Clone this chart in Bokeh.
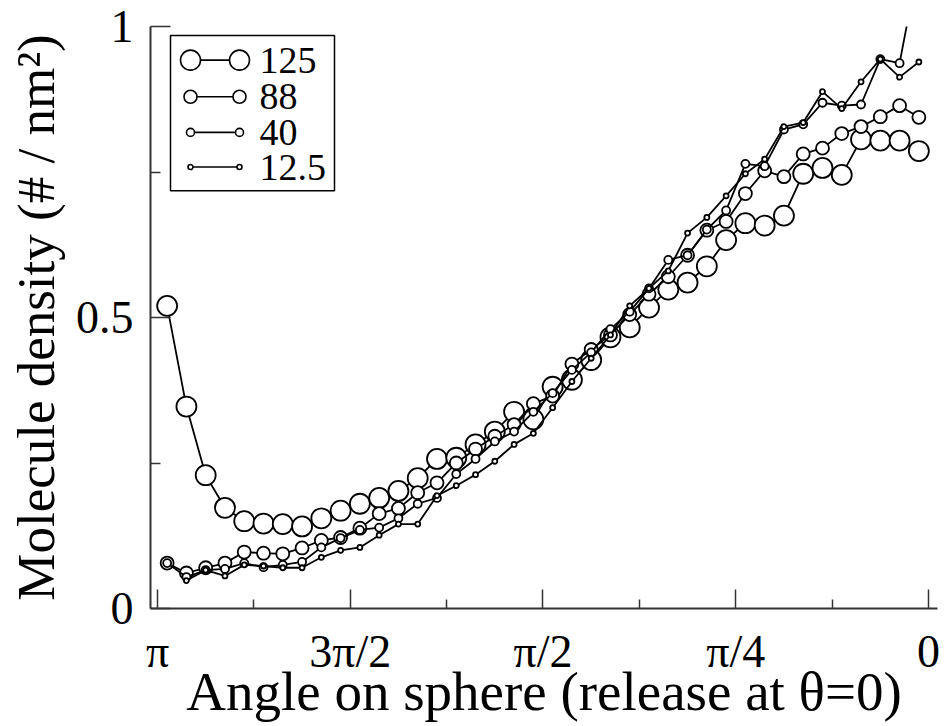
from bokeh.plotting import figure
from bokeh.models import Range1d, FixedTicker, ColumnDataSource
from bokeh.embed import file_html
from bokeh.resources import INLINE
from bokeh.core.properties import value

# ---------------- data ----------------
x_tick_pos = [0, 1, 2, 3, 4]
x_tick_labels = ["π", "3π/2", "π/2", "π/4", "0"]
x_minor_ticks = [0.5, 1.5, 2.5, 3.5]
y_tick_pos = [0, 0.5, 1]
y_tick_labels = ["0", "0.5", "1"]
y_minor_ticks = [0.25, 0.75]

bins = [0.05, 0.15, 0.25, 0.35, 0.45, 0.55, 0.65, 0.75, 0.85, 0.95,
        1.05, 1.15, 1.25, 1.35, 1.45, 1.55, 1.65, 1.75, 1.85, 1.95,
        2.05, 2.15, 2.25, 2.35, 2.45, 2.55, 2.65, 2.75, 2.85, 2.95,
        3.05, 3.15, 3.25, 3.35, 3.45, 3.55, 3.65, 3.75, 3.85, 3.95]

y_125 = [0.520, 0.347, 0.229, 0.173, 0.150, 0.146, 0.145, 0.141, 0.155, 0.168,
         0.180, 0.190, 0.202, 0.224, 0.257, 0.259, 0.282, 0.304, 0.338, 0.325,
         0.381, 0.393, 0.427, 0.466, 0.483, 0.517, 0.548, 0.560, 0.588, 0.633,
         0.662, 0.658, 0.675, 0.747, 0.757, 0.745, 0.806, 0.804, 0.804, 0.786]

y_88 = [0.078, 0.061, 0.070, 0.078, 0.097, 0.095, 0.094, 0.104, 0.117, 0.122,
        0.138, 0.163, 0.172, 0.199, 0.216, 0.250, 0.274, 0.296, 0.316, 0.352,
        0.365, 0.420, 0.445, 0.470, 0.505, 0.540, 0.570, 0.607, 0.650, 0.665,
        0.713, 0.752, 0.742, 0.781, 0.791, 0.816, 0.828, 0.845, 0.864, 0.844]

y_40 = [0.078, 0.054, 0.066, 0.068, 0.078, 0.071, 0.075, 0.080, 0.105, 0.121,
        0.135, 0.139, 0.155, 0.180, 0.190, 0.231, 0.257, 0.287, 0.304, 0.338,
        0.370, 0.410, 0.440, 0.480, 0.510, 0.550, 0.599, 0.607, 0.651, 0.684,
        0.764, 0.760, 0.823, 0.832, 0.869, 0.864, 0.866, 0.944, 0.937, 1.110]

y_12_5 = [0.048, 0.066, 0.056, 0.075, 0.073, 0.070, 0.070, 0.088, 0.100,
          0.105, 0.126, 0.145, 0.145, 0.194, 0.211, 0.230, 0.253, 0.282, 0.301,
          0.345, 0.390, 0.430, 0.470, 0.520, 0.550, 0.580, 0.645, 0.672, 0.709,
          0.747, 0.772, 0.828, 0.835, 0.888, 0.859, 0.905, 0.944, 0.913, 0.939]

series_names = ["125", "88", "40", "12.5"]
series_x = [bins, bins, bins, bins[1:]]
series_y = [y_125, y_88, y_40, y_12_5]
marker_sizes = [20, 13, 8, 5]

# ---------------- figure ----------------
FONT = "Liberation Serif"
FRAME_W, FRAME_H = 787, 588

p = figure(width=940, height=724, output_backend="svg", toolbar_location=None,
           x_range=Range1d(-0.0363, 4.0467), y_range=Range1d(0, 1),
           min_border_left=150, min_border_right=3, min_border_top=26,
           min_border_bottom=110)
p.xgrid.visible = False
p.ygrid.visible = False
p.outline_line_color = None
p.background_fill_color = "white"
p.border_fill_color = "white"

for xs, ys, sz in zip(series_x, series_y, marker_sizes):
    src = ColumnDataSource(dict(x=xs, y=ys))
    p.line("x", "y", source=src, line_color="black", line_width=1.8)
    p.scatter("x", "y", source=src, size=sz, marker="circle",
              fill_color="white", line_color="black", line_width=1.8)

# axes
p.xaxis.ticker = FixedTicker(ticks=x_tick_pos, minor_ticks=x_minor_ticks)
p.xaxis.major_label_overrides = {t: l for t, l in zip(x_tick_pos, x_tick_labels)}
p.yaxis.ticker = FixedTicker(ticks=y_tick_pos, minor_ticks=y_minor_ticks)
p.yaxis.major_label_overrides = {t: l for t, l in zip(y_tick_pos, y_tick_labels)}

p.xaxis.axis_label = "Angle on sphere (release at θ=0)"
p.yaxis.axis_label = "Molecule density (# / nm²)"

for ax in (p.xaxis, p.yaxis):
    ax.axis_line_color = "#333333"
    ax.axis_line_width = 2
    ax.major_tick_line_color = "#333333"
    ax.minor_tick_line_color = "#333333"
    ax.major_tick_line_width = 1.5
    ax.minor_tick_line_width = 1.5
    ax.major_tick_out = 0
    ax.minor_tick_out = 0
    ax.major_label_text_font = FONT
    ax.major_label_text_font_size = "46px"
    ax.major_label_text_color = "black"
    ax.axis_label_text_font = FONT
    ax.axis_label_text_font_style = "normal"
    ax.axis_label_text_color = "black"

p.xaxis.axis_label_text_font_size = "55px"
p.yaxis.axis_label_text_font_size = "53px"
p.xaxis.major_tick_in = 19
p.xaxis.minor_tick_in = 9
p.yaxis.major_tick_in = 20
p.yaxis.minor_tick_in = 10
p.xaxis.major_label_standoff = 17
p.xaxis.axis_label_standoff = -19
p.yaxis.major_label_standoff = 17
p.yaxis.axis_label_standoff = 8

# ---------------- legend (frame pixel offsets from top-left) ----------------
p.extra_x_ranges = {"lx": Range1d(0, FRAME_W)}
p.extra_y_ranges = {"ly": Range1d(FRAME_H, 0)}
leg_rows = [34, 71, 107, 142]
p.quad(left=[20], right=[184], top=[9], bottom=[166], x_range_name="lx",
       y_range_name="ly", fill_color="white", line_color="black", line_width=1.5)
lsrc = ColumnDataSource(dict(y=leg_rows, size=marker_sizes, label=series_names,
                             xa=[40] * 4, xb=[89] * 4, xt=[109] * 4))
p.segment(x0="xa", x1="xb", y0="y", y1="y", source=lsrc, x_range_name="lx",
          y_range_name="ly", line_color="black", line_width=1.6)
for xcol in ("xa", "xb"):
    p.scatter(xcol, "y", source=lsrc, size="size", marker="circle",
              x_range_name="lx", y_range_name="ly",
              fill_color="white", line_color="black", line_width=1.6)
p.text("xt", "y", text="label", source=lsrc, x_range_name="lx", y_range_name="ly",
       text_font=value(FONT), text_font_size="38px", text_baseline="middle",
       text_color="black")

open("out.html", "w").write(file_html(p, INLINE))
